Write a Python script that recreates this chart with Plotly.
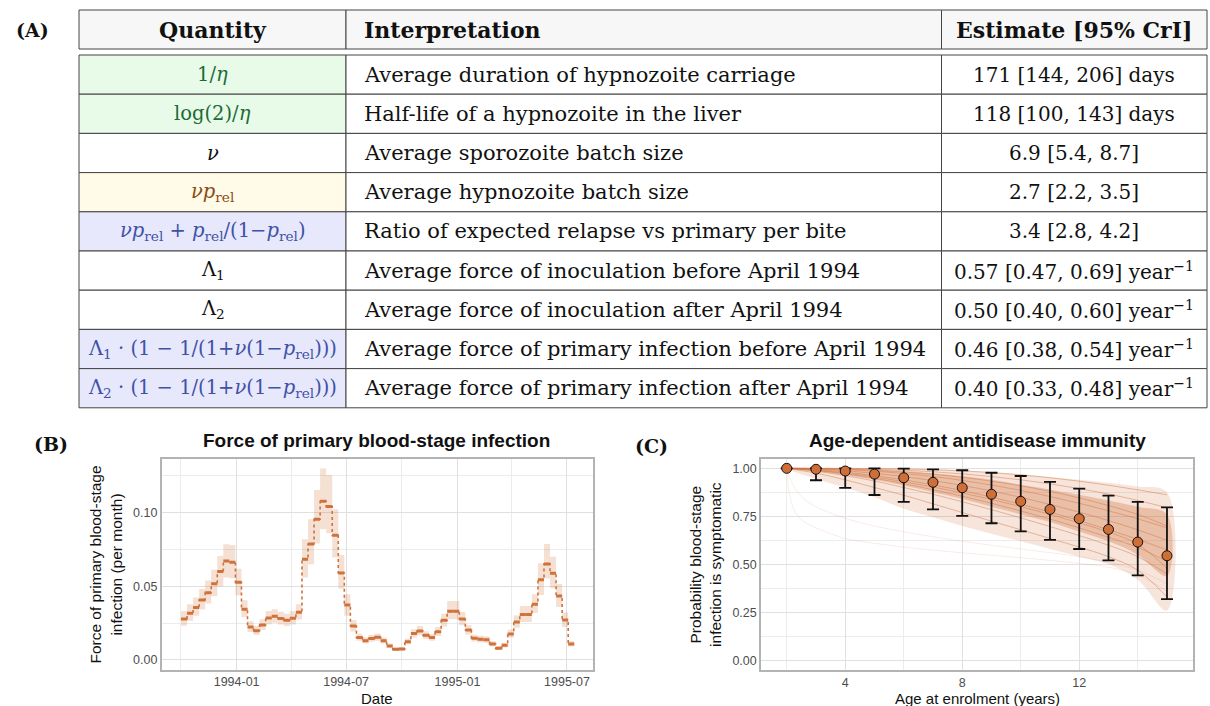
import plotly.graph_objects as go

# ---------------- Panel A: table ----------------
header_labels = ["<b>Quantity</b>", "<b>Interpretation</b>", "<b>Estimate [95% CrI]</b>"]
quantities = [
    "1/<i>η</i>",
    "log(2)/<i>η</i>",
    "<i>ν</i>",
    "<i>νp</i><sub>rel</sub>",
    "<i>νp</i><sub>rel</sub> + <i>p</i><sub>rel</sub>/(1−<i>p</i><sub>rel</sub>)",
    "Λ<sub>1</sub>",
    "Λ<sub>2</sub>",
    "Λ<sub>1</sub> · (1 − 1/(1+<i>ν</i>(1−<i>p</i><sub>rel</sub>)))",
    "Λ<sub>2</sub> · (1 − 1/(1+<i>ν</i>(1−<i>p</i><sub>rel</sub>)))",
]
interpretations = [
    "Average duration of hypnozoite carriage",
    "Half-life of a hypnozoite in the liver",
    "Average sporozoite batch size",
    "Average hypnozoite batch size",
    "Ratio of expected relapse vs primary per bite",
    "Average force of inoculation before April 1994",
    "Average force of inoculation after April 1994",
    "Average force of primary infection before April 1994",
    "Average force of primary infection after April 1994",
]
estimates = [
    "171 [144, 206] days",
    "118 [100, 143] days",
    "6.9 [5.4, 8.7]",
    "2.7 [2.2, 3.5]",
    "3.4 [2.8, 4.2]",
    "0.57 [0.47, 0.69] year<sup>−1</sup>",
    "0.50 [0.40, 0.60] year<sup>−1</sup>",
    "0.46 [0.38, 0.54] year<sup>−1</sup>",
    "0.40 [0.33, 0.48] year<sup>−1</sup>",
]
row_group = ["green", "green", "none", "yellow", "blue", "none", "none", "blue", "blue"]

fill_map = {"green": "#e8fbe8", "yellow": "#fffbe8", "blue": "#e7e8fb", "none": "#ffffff"}
text_map = {"green": "#1e6b3a", "yellow": "#8a4a14", "blue": "#4052a6", "none": "#111111"}

# ---------------- Panel B: force of primary infection ----------------
period_start = [
    "1993-10-01", "1993-10-11", "1993-10-21", "1993-10-31", "1993-11-10", "1993-11-20",
    "1993-11-30", "1993-12-10", "1993-12-20", "1993-12-30", "1994-01-09", "1994-01-19",
    "1994-01-29", "1994-02-08", "1994-02-18", "1994-02-28", "1994-03-10", "1994-03-20",
    "1994-03-30", "1994-04-09", "1994-04-19", "1994-04-29", "1994-05-09", "1994-05-19",
    "1994-05-29", "1994-06-08", "1994-06-18", "1994-06-28", "1994-07-08", "1994-07-18",
    "1994-07-28", "1994-08-07", "1994-08-17", "1994-08-27", "1994-09-06", "1994-09-16",
    "1994-09-26", "1994-10-06", "1994-10-16", "1994-10-26", "1994-11-05", "1994-11-15",
    "1994-11-25", "1994-12-05", "1994-12-15", "1994-12-25", "1995-01-04", "1995-01-14",
    "1995-01-24", "1995-02-03", "1995-02-13", "1995-02-23", "1995-03-05", "1995-03-15",
    "1995-03-25", "1995-04-04", "1995-04-14", "1995-04-24", "1995-05-04", "1995-05-14",
    "1995-05-24", "1995-06-03", "1995-06-13", "1995-06-23", "1995-07-03",
]
period_end_last = "1995-07-13"
foi_mean = [
    0.0278, 0.0317, 0.0357, 0.0407, 0.0457, 0.0518, 0.0600, 0.0672, 0.0663, 0.0527,
    0.0344, 0.0224, 0.0199, 0.0238, 0.0285, 0.0296, 0.0281, 0.0269, 0.0283, 0.0324,
    0.0683, 0.0787, 0.0955, 0.1077, 0.1041, 0.0846, 0.0590, 0.0373, 0.0231, 0.0152,
    0.0131, 0.0145, 0.0154, 0.0131, 0.0095, 0.0072, 0.0075, 0.0124, 0.0179, 0.0197,
    0.0167, 0.0152, 0.0192, 0.0269, 0.0330, 0.0330, 0.0278, 0.0204, 0.0147, 0.0140,
    0.0138, 0.0109, 0.0079, 0.0100, 0.0176, 0.0258, 0.0308, 0.0308, 0.0378, 0.0545,
    0.0652, 0.0588, 0.0434, 0.0271, 0.0109,
]
foi_lo = [
    0.0233, 0.0266, 0.0300, 0.0342, 0.0384, 0.0432, 0.0498, 0.0559, 0.0554, 0.0440,
    0.0290, 0.0190, 0.0170, 0.0203, 0.0243, 0.0252, 0.0240, 0.0230, 0.0241, 0.0275,
    0.0559, 0.0649, 0.0790, 0.0887, 0.0860, 0.0695, 0.0484, 0.0301, 0.0194, 0.0130,
    0.0112, 0.0124, 0.0131, 0.0112, 0.0081, 0.0061, 0.0064, 0.0106, 0.0152, 0.0168,
    0.0142, 0.0130, 0.0163, 0.0228, 0.0276, 0.0276, 0.0235, 0.0173, 0.0125, 0.0119,
    0.0117, 0.0093, 0.0067, 0.0085, 0.0150, 0.0219, 0.0258, 0.0258, 0.0318, 0.0441,
    0.0554, 0.0486, 0.0360, 0.0224, 0.0091,
]
foi_hi = [
    0.0333, 0.0378, 0.0424, 0.0482, 0.0540, 0.0612, 0.0706, 0.0785, 0.0780, 0.0620,
    0.0405, 0.0262, 0.0232, 0.0277, 0.0332, 0.0345, 0.0328, 0.0314, 0.0330, 0.0378,
    0.0819, 0.0955, 0.1154, 0.1300, 0.1256, 0.1023, 0.0713, 0.0446, 0.0272, 0.0178,
    0.0153, 0.0170, 0.0180, 0.0153, 0.0111, 0.0085, 0.0088, 0.0145, 0.0209, 0.0230,
    0.0195, 0.0178, 0.0224, 0.0314, 0.0400, 0.0400, 0.0325, 0.0238, 0.0172, 0.0164,
    0.0161, 0.0128, 0.0093, 0.0117, 0.0206, 0.0302, 0.0366, 0.0366, 0.0446, 0.0656,
    0.0787, 0.0701, 0.0515, 0.0322, 0.0129,
]

# ---------------- Panel C: age-dependent immunity ----------------
ages = [2, 3, 4, 5, 6, 7, 8, 9, 10, 11, 12, 13, 14, 15]
obs_prob = [1.000, 0.995, 0.986, 0.970, 0.951, 0.927, 0.899, 0.865, 0.828, 0.786, 0.738, 0.682, 0.616, 0.545]
obs_lo = [1.000, 0.938, 0.898, 0.861, 0.825, 0.786, 0.752, 0.714, 0.672, 0.628, 0.580, 0.521, 0.443, 0.319]
obs_hi = [1.000, 1.000, 1.000, 1.000, 0.998, 0.995, 0.990, 0.977, 0.960, 0.929, 0.894, 0.858, 0.825, 0.797]
band_outer_hi = [1.0, 1.0, 1.0, 1.0, 0.998, 0.995, 0.99, 0.98, 0.97, 0.955, 0.94, 0.925, 0.905, 0.875]
band_outer_lo = [1.0, 0.945, 0.90, 0.85, 0.79, 0.745, 0.70, 0.66, 0.62, 0.58, 0.54, 0.50, 0.42, 0.26]
band_inner_hi = [1.0, 0.999, 0.997, 0.993, 0.986, 0.975, 0.96, 0.94, 0.915, 0.89, 0.862, 0.832, 0.80, 0.76]
band_inner_lo = [1.0, 0.985, 0.965, 0.94, 0.91, 0.875, 0.84, 0.80, 0.76, 0.72, 0.67, 0.62, 0.55, 0.44]
draw_curves = [
    [1.0, 1.0, 1.0, 0.999, 0.997, 0.993, 0.987, 0.978, 0.966, 0.951, 0.933, 0.912, 0.888, 0.862],
    [1.0, 1.0, 0.998, 0.995, 0.990, 0.982, 0.971, 0.957, 0.940, 0.919, 0.894, 0.866, 0.833, 0.795],
    [1.0, 0.998, 0.993, 0.985, 0.973, 0.957, 0.937, 0.913, 0.885, 0.853, 0.818, 0.779, 0.737, 0.690],
    [1.0, 0.996, 0.987, 0.974, 0.957, 0.936, 0.911, 0.882, 0.849, 0.812, 0.772, 0.728, 0.680, 0.625],
    [1.0, 0.993, 0.980, 0.962, 0.940, 0.914, 0.884, 0.850, 0.813, 0.772, 0.728, 0.680, 0.630, 0.575],
    [1.0, 0.989, 0.971, 0.948, 0.920, 0.889, 0.855, 0.818, 0.778, 0.736, 0.690, 0.641, 0.588, 0.515],
    [1.0, 0.985, 0.962, 0.934, 0.900, 0.865, 0.826, 0.785, 0.742, 0.697, 0.650, 0.600, 0.540, 0.450],
    [1.0, 0.975, 0.940, 0.900, 0.860, 0.815, 0.770, 0.725, 0.680, 0.635, 0.590, 0.540, 0.470, 0.330],
    [1.0, 0.999, 0.996, 0.990, 0.981, 0.969, 0.953, 0.933, 0.909, 0.880, 0.846, 0.806, 0.760, 0.700],
    [1.0, 0.990, 0.975, 0.955, 0.930, 0.903, 0.872, 0.838, 0.801, 0.760, 0.716, 0.668, 0.605, 0.480],
]
outlier_ages = [2, 2.1, 2.3, 2.6, 3, 4, 5, 6, 8, 10, 12, 13, 14, 15]
outlier_a = [1.0, 0.86, 0.77, 0.72, 0.69, 0.635, 0.61, 0.59, 0.56, 0.535, 0.505, 0.485, 0.445, 0.36]
outlier_b = [1.0, 0.95, 0.89, 0.84, 0.80, 0.74, 0.70, 0.67, 0.62, 0.58, 0.54, 0.51, 0.47, 0.40]

ORANGE = "#cf6f37"
SEG = "#d0723b"
SANS = "Liberation Sans, Arial, sans-serif"
SERIF = "DejaVu Serif, serif"
W, H = 1210, 706
LINE = "#444444"

# table geometry (pixels)
COL_EDGES = [79, 346, 941.5, 1207]
HEAD_TOP, HEAD_BOT = 10, 49
BODY_TOP, ROW_H = 55, 39.2
COL_FONT = [19.5, 21, 20]
TEXT_INSET = 16


def px_x(p):
    return p / W


def px_y(p):
    return 1 - p / H


fig = go.Figure()

# ----- Table (shapes + annotations built from the lists) -----
shapes = []
annotations = []


def cell(col, y0, y1, fill, text, color, size):
    x0, x1 = COL_EDGES[col], COL_EDGES[col + 1]
    shapes.append(dict(type="rect", xref="paper", yref="paper",
                       x0=px_x(x0), x1=px_x(x1), y0=px_y(y1), y1=px_y(y0),
                       fillcolor=fill, line=dict(color=LINE, width=1), layer="below"))
    if col == 1:
        ax, anchor = x0 + TEXT_INSET, "left"
    else:
        ax, anchor = (x0 + x1) / 2, "center"
    annotations.append(dict(text=text, xref="paper", yref="paper", x=px_x(ax),
                            y=px_y((y0 + y1) / 2), xanchor=anchor, yanchor="middle",
                            showarrow=False, font=dict(family=SERIF, size=size, color=color)))


for j, lab in enumerate(header_labels):
    cell(j, HEAD_TOP, HEAD_BOT, "#f7f7f7", lab, "#111111", 22)

for i, (q, itp, est, grp) in enumerate(zip(quantities, interpretations, estimates, row_group)):
    y0 = BODY_TOP + i * ROW_H
    y1 = y0 + ROW_H
    cell(0, y0, y1, fill_map[grp], q, text_map[grp], COL_FONT[0])
    cell(1, y0, y1, "#ffffff", itp, "#111111", COL_FONT[1])
    cell(2, y0, y1, "#ffffff", est, "#111111", COL_FONT[2])

# ----- Panel B traces -----
ends = period_start[1:] + [period_end_last]
rx, ry = [], []
sx, sy = [], []
for s, e, lo, hi, m in zip(period_start, ends, foi_lo, foi_hi, foi_mean):
    rx += [s, e, e, s, s, None]
    ry += [lo, lo, hi, hi, lo, None]
    sx += [s, e, None]
    sy += [m, m, None]
fig.add_trace(go.Scatter(x=rx, y=ry, mode="lines", fill="toself",
                         fillcolor="rgba(208,112,59,0.22)", line=dict(width=0),
                         hoverinfo="skip", showlegend=False, xaxis="x", yaxis="y"))
fig.add_trace(go.Scatter(x=period_start + [period_end_last], y=foi_mean + [foi_mean[-1]],
                         mode="lines", line=dict(color=SEG, width=1.6, dash="dot", shape="hv"),
                         showlegend=False, xaxis="x", yaxis="y"))
fig.add_trace(go.Scatter(x=sx, y=sy, mode="lines", line=dict(color=SEG, width=3),
                         showlegend=False, xaxis="x", yaxis="y"))

# ----- Panel C traces -----
fig.add_trace(go.Scatter(x=ages + ages[::-1], y=band_outer_hi + band_outer_lo[::-1],
                         fill="toself", fillcolor="rgba(208,112,59,0.18)",
                         line=dict(width=0, shape="spline"), mode="lines",
                         showlegend=False, hoverinfo="skip", xaxis="x2", yaxis="y2"))
fig.add_trace(go.Scatter(x=ages + ages[::-1], y=band_inner_hi + band_inner_lo[::-1],
                         fill="toself", fillcolor="rgba(208,112,59,0.32)",
                         line=dict(width=0, shape="spline"), mode="lines",
                         showlegend=False, hoverinfo="skip", xaxis="x2", yaxis="y2"))
for c in draw_curves:
    fig.add_trace(go.Scatter(x=ages, y=c, mode="lines",
                             line=dict(color="rgba(208,112,59,0.45)", width=1, shape="spline"),
                             showlegend=False, hoverinfo="skip", xaxis="x2", yaxis="y2"))
for c in (outlier_a, outlier_b):
    fig.add_trace(go.Scatter(x=outlier_ages, y=c, mode="lines",
                             line=dict(color="rgba(208,112,59,0.13)", width=1, shape="spline"),
                             showlegend=False, hoverinfo="skip", xaxis="x2", yaxis="y2"))
fig.add_trace(go.Scatter(
    x=ages, y=obs_prob, mode="markers",
    marker=dict(size=10, color=ORANGE, line=dict(color="#111111", width=1)),
    error_y=dict(type="data", symmetric=False,
                 array=[h - p for h, p in zip(obs_hi, obs_prob)],
                 arrayminus=[p - l for p, l in zip(obs_prob, obs_lo)],
                 color="#111111", thickness=1.8, width=6),
    showlegend=False, xaxis="x2", yaxis="y2"))

grid = "#e0e0e0"
border = "#b3b3b3"
tickfont = dict(family=SANS, size=12.5, color="#4d4d4d")
title_font = dict(family=SANS, size=15, color="#111111")
axis_common = dict(showgrid=True, gridcolor=grid, gridwidth=1, showline=True,
                   linecolor=border, linewidth=1.5, mirror=True, zeroline=False,
                   ticks="", tickfont=tickfont)

fig.update_layout(
    width=W, height=H, margin=dict(l=0, r=0, t=0, b=0),
    paper_bgcolor="white", plot_bgcolor="white", showlegend=False,
    shapes=shapes,
    xaxis=dict(domain=[px_x(161.6), px_x(593)], type="date",
               range=["1993-08-30", "1995-08-13"],
               tickvals=["1994-01-01", "1994-07-01", "1995-01-01", "1995-07-01"],
               ticktext=["1994-01", "1994-07", "1995-01", "1995-07"],
               minor=dict(tickvals=["1993-10-01", "1994-04-01", "1994-10-01", "1995-04-01"],
                          showgrid=True, gridcolor="#ececec", gridwidth=1, ticklen=0),
               anchor="y", **axis_common),
    yaxis=dict(domain=[px_y(669.7), px_y(459.3)], range=[-0.0066, 0.1362],
               tickvals=[0, 0.05, 0.10], ticktext=["0.00", "0.05", "0.10"],
               minor=dict(tickvals=[0.025, 0.075, 0.125], showgrid=True,
                          gridcolor="#ececec", gridwidth=1, ticklen=0),
               title=dict(text="Force of primary blood-stage<br>infection (per month)",
                          font=dict(family=SANS, size=15.5, color="#111111"), standoff=7),
               anchor="x", **axis_common),
    xaxis2=dict(domain=[px_x(761), px_x(1193.3)], range=[1.12, 15.9],
                tickvals=[4, 8, 12], ticktext=["4", "8", "12"],
                minor=dict(tickvals=[2, 6, 10, 14], showgrid=True,
                           gridcolor="#ececec", gridwidth=1, ticklen=0),
                anchor="y2", **axis_common),
    yaxis2=dict(domain=[px_y(670), px_y(459.3)], range=[-0.05, 1.047],
                tickvals=[0, 0.25, 0.5, 0.75, 1.0],
                ticktext=["0.00", "0.25", "0.50", "0.75", "1.00"],
                minor=dict(tickvals=[0.125, 0.375, 0.625, 0.875], showgrid=True,
                           gridcolor="#ececec", gridwidth=1, ticklen=0),
                title=dict(text="Probability blood-stage<br>infection is symptomatic",
                           font=dict(family=SANS, size=15.5, color="#111111"), standoff=7),
                anchor="x2", **axis_common),
)

for a in annotations:
    fig.add_annotation(**a)

labels = [
    dict(text="<b>(A)</b>", x=px_x(32), y=px_y(30)),
    dict(text="<b>(B)</b>", x=px_x(51), y=px_y(444)),
    dict(text="<b>(C)</b>", x=px_x(651), y=px_y(446)),
]
for a in labels:
    fig.add_annotation(xref="paper", yref="paper", showarrow=False, xanchor="center",
                       yanchor="middle", font=dict(family=SERIF, size=19, color="#111111"), **a)
fig.add_annotation(text="<b>Force of primary blood-stage infection</b>", xref="paper", yref="paper",
                   x=px_x(377), y=px_y(440), showarrow=False, xanchor="center", yanchor="middle",
                   font=dict(family=SANS, size=19, color="#111111"))
fig.add_annotation(text="<b>Age-dependent antidisease immunity</b>", xref="paper", yref="paper",
                   x=px_x(977), y=px_y(440), showarrow=False, xanchor="center", yanchor="middle",
                   font=dict(family=SANS, size=19, color="#111111"))
fig.add_annotation(text="Date", xref="paper", yref="paper", x=px_x(377), y=px_y(698),
                   showarrow=False, xanchor="center", yanchor="middle", font=title_font)
fig.add_annotation(text="Age at enrolment (years)", xref="paper", yref="paper",
                   x=px_x(977), y=px_y(698), showarrow=False, xanchor="center",
                   yanchor="middle", font=title_font)

fig.write_html("out.html", config={"displayModeBar": False},
               post_script="document.body.style.margin='0px';")
